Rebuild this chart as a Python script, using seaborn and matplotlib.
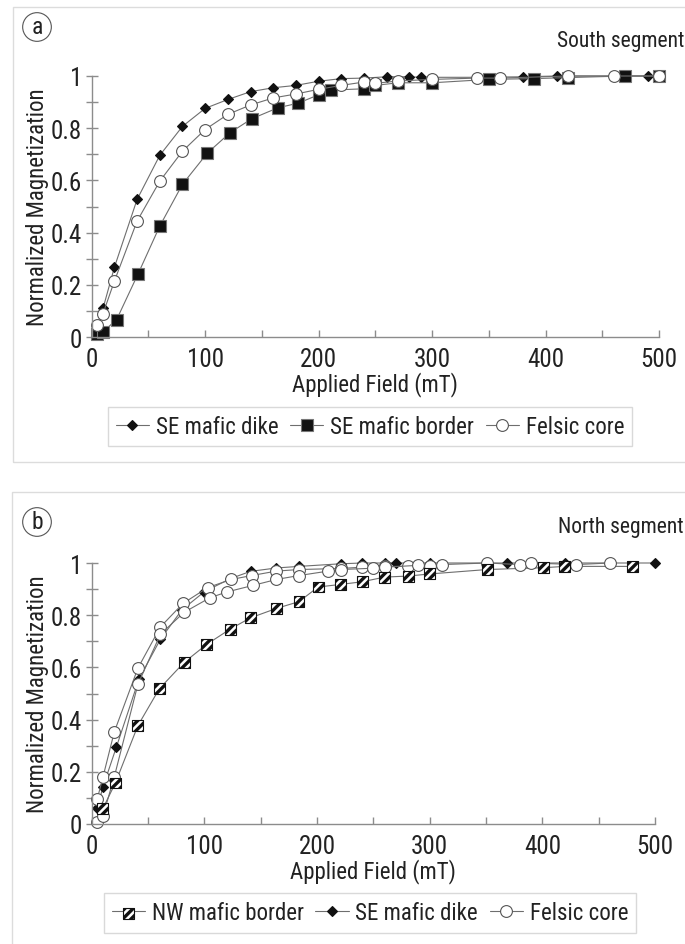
import matplotlib
matplotlib.use("Agg")
import matplotlib.pyplot as plt
import matplotlib.font_manager as fm
from matplotlib.patches import Rectangle
from matplotlib.lines import Line2D
from matplotlib.legend_handler import HandlerTuple
from matplotlib.ticker import MultipleLocator, FixedLocator
import seaborn as sns
import pandas as pd

# ---------------- data ----------------
# Panel (a) South segment
a_dike_x = [10, 20, 40, 60, 80, 100, 120, 140, 160, 180, 200, 220, 240, 260, 280, 290, 340, 380, 410, 490]
a_dike_y = [0.11, 0.267, 0.527, 0.696, 0.807, 0.876, 0.91, 0.94, 0.955, 0.964, 0.98, 0.99, 0.992, 0.997, 0.997, 0.995, 0.995, 0.997, 1.0, 1.0]

a_border_x = [5, 10, 22, 41, 60, 80, 102, 122, 141, 164, 182, 200, 211, 240, 250, 270, 300, 350, 390, 420, 470, 500]
a_border_y = [0.01, 0.02, 0.067, 0.243, 0.425, 0.585, 0.705, 0.783, 0.836, 0.878, 0.896, 0.928, 0.946, 0.951, 0.964, 0.974, 0.974, 0.987, 0.99, 0.994, 1.0, 1.0]

a_felsic_x = [5, 10, 20, 40, 60, 80, 100, 120, 140, 160, 180, 200, 220, 240, 250, 270, 300, 340, 360, 420, 460, 500]
a_felsic_y = [0.047, 0.09, 0.214, 0.444, 0.597, 0.712, 0.795, 0.853, 0.889, 0.916, 0.931, 0.949, 0.964, 0.977, 0.972, 0.981, 0.987, 0.992, 0.992, 1.0, 1.0, 1.0]

# Panel (b) North segment
b_border_x = [10, 21, 41, 60, 82, 102, 123, 141, 164, 184, 201, 221, 240, 260, 281, 300, 351, 401, 420, 480]
b_border_y = [0.06, 0.157, 0.377, 0.518, 0.619, 0.688, 0.747, 0.79, 0.826, 0.852, 0.908, 0.918, 0.928, 0.946, 0.95, 0.958, 0.975, 0.982, 0.987, 0.987]

b_dike_x = [5, 10, 22, 42, 61, 80, 100, 123, 141, 164, 184, 221, 240, 260, 270, 300, 369, 420, 500]
b_dike_y = [0.063, 0.142, 0.296, 0.556, 0.708, 0.82, 0.89, 0.94, 0.968, 0.981, 0.987, 0.997, 1.0, 1.0, 1.0, 1.0, 1.0, 1.0, 1.0]

b_felsic1_x = [5, 10, 20, 41, 61, 81, 103, 124, 142, 164, 184, 221, 240, 260, 281, 300, 311, 351, 380, 390, 430, 460]
b_felsic1_y = [0.097, 0.18, 0.352, 0.597, 0.755, 0.845, 0.906, 0.937, 0.952, 0.969, 0.975, 0.979, 0.984, 0.987, 0.987, 0.987, 0.994, 1.0, 0.994, 1.0, 0.994, 1.0]

b_felsic2_x = [5, 10, 20, 41, 61, 82, 105, 120, 143, 164, 184, 210, 221, 250, 260, 290]
b_felsic2_y = [0.009, 0.031, 0.18, 0.535, 0.727, 0.811, 0.867, 0.889, 0.914, 0.937, 0.952, 0.969, 0.975, 0.98, 0.984, 0.991]

y_ticks = [0, 0.2, 0.4, 0.6, 0.8, 1.0]
y_tick_labels = ["0", "0.2", "0.4", "0.6", "0.8", "1"]
x_ticks = [0, 100, 200, 300, 400, 500]
x_tick_labels = ["0", "100", "200", "300", "400", "500"]

legend_a = ["SE mafic dike", "SE mafic border", "Felsic core"]
legend_b = ["NW mafic border", "SE mafic dike", "Felsic core"]

# ---------------- style ----------------
sns.set_style("white")


def _is_cond(f):
    s = f.stretch
    if isinstance(s, str):
        return "condensed" in s or "narrow" in s
    try:
        return int(s) <= 400
    except Exception:
        return False


fam = "Liberation Sans"
stretch = "normal"
condensed = False
names = {f.name for f in fm.fontManager.ttflist}
for cand in ["Liberation Sans Narrow", "Roboto Condensed", "Open Sans Condensed"]:
    if cand in names:
        fam = cand
        condensed = True
        break
if not condensed:
    for cand in ["DejaVu Sans", "Noto Sans", "Open Sans", "Roboto"]:
        if any(f.name == cand and _is_cond(f) for f in fm.fontManager.ttflist):
            fam = cand
            stretch = "condensed"
            condensed = True
            break

plt.rcParams["font.family"] = [fam, "DejaVu Sans"]
plt.rcParams["font.stretch"] = stretch
plt.rcParams["hatch.linewidth"] = 2.4

FS_TICK = 18 if condensed else 15
FS_LAB = 16.5 if condensed else 14
FS_LEG = 16.5 if condensed else 14
FS_SEG = 15.5 if condensed else 14

W, H = 685, 945
fig = plt.figure(figsize=(W / 100, H / 100), dpi=100)
fig.patch.set_facecolor("white")

LINE_C = "#6e6e6e"
AX_C = "#8c8c8c"
TXT_C = "#222222"
LW = 0.8


def fx(px):
    return px / W


def fy(py):
    return 1 - py / H


# panel frames
fig.add_artist(Rectangle((fx(13), fy(463)), fx(700) - fx(13), fy(8) - fy(463),
                         transform=fig.transFigure, fill=False, ec="#dcdcdc", lw=1.0))
fig.add_artist(Rectangle((fx(12), fy(960)), fx(700) - fx(12), fy(493) - fy(960),
                         transform=fig.transFigure, fill=False, ec="#dcdcdc", lw=1.0))


def style_axes(ax):
    ax.set_xlim(0, 500)
    ax.set_ylim(0, 1)
    for s in ["top", "right"]:
        ax.spines[s].set_visible(False)
    for s in ["left", "bottom"]:
        ax.spines[s].set_color(AX_C)
        ax.spines[s].set_linewidth(1.0)
    ax.xaxis.set_major_locator(FixedLocator(x_ticks))
    ax.set_xticklabels(x_tick_labels)
    ax.xaxis.set_minor_locator(MultipleLocator(50))
    ax.yaxis.set_major_locator(FixedLocator(y_ticks))
    ax.set_yticklabels(y_tick_labels)
    ax.yaxis.set_minor_locator(MultipleLocator(0.1))
    ax.tick_params(axis="y", which="both", direction="inout", length=8, width=1.0,
                   color=AX_C, labelsize=FS_TICK, pad=3, left=True)
    ax.tick_params(axis="x", which="both", direction="in", length=5, width=1.0,
                   color=AX_C, labelsize=FS_TICK, pad=7, bottom=True)
    ax.set_xlabel("Applied Field (mT)", fontsize=FS_LAB, labelpad=0, color=TXT_C)
    ax.set_ylabel("Normalized Magnetization", fontsize=FS_LAB, labelpad=1, color=TXT_C)
    for lab in ax.get_xticklabels() + ax.get_yticklabels():
        lab.set_color(TXT_C)
    ax.patch.set_alpha(0)


def series(ax, xs, ys, marker, ms, fc, ec):
    df = pd.DataFrame({"x": xs, "y": ys})
    sns.lineplot(data=df, x="x", y="y", ax=ax, sort=False, color=LINE_C, lw=LW,
                 marker=marker, markersize=ms, markerfacecolor=fc,
                 markeredgecolor=ec, markeredgewidth=0.8, clip_on=False)
    return Line2D([], [], color=LINE_C, lw=LW, marker=marker, markersize=ms,
                  markerfacecolor=fc, markeredgecolor=ec, markeredgewidth=0.8)


LEG_KW = dict(loc="center", ncol=3, fontsize=FS_LEG, frameon=True, fancybox=False,
              edgecolor="#d0d0d0", handlelength=1.45, handletextpad=0.3,
              columnspacing=0.5, borderpad=0.35, borderaxespad=0, numpoints=1)

# ---------------- panel a ----------------
axa = fig.add_axes([fx(91.7), fy(338), (659 - 91.7) / W, (338 - 77) / H])
h1 = series(axa, a_dike_x, a_dike_y, "D", 5.2, "#111111", "#111111")
h2 = series(axa, a_border_x, a_border_y, "s", 8, "#111111", "#777777")
h3 = series(axa, a_felsic_x, a_felsic_y, "o", 8.5, "white", "#555555")
style_axes(axa)
leg_a = fig.legend([h1, h2, h3], legend_a, bbox_to_anchor=(fx(370), fy(427.5)), **LEG_KW)
for t in leg_a.get_texts():
    t.set_color(TXT_C)

fig.text(fx(37), fy(28), "a", ha="center", va="center", fontsize=17, color=TXT_C,
         bbox=dict(boxstyle="circle,pad=0.12", fc="white", ec="#555555", lw=0.8))
fig.text(fx(684), fy(42), "South segment", ha="right", va="center", fontsize=FS_SEG,
         color=TXT_C)

# ---------------- panel b ----------------
axb = fig.add_axes([fx(91.7), fy(825), (655 - 91.7) / W, (825 - 564) / H])
dfb = pd.DataFrame({"x": b_border_x, "y": b_border_y})
sns.lineplot(data=dfb, x="x", y="y", ax=axb, sort=False, color=LINE_C, lw=LW, clip_on=False)
sns.scatterplot(data=dfb, x="x", y="y", ax=axb, marker="s", s=62, color="white",
                edgecolor="#111111", linewidth=0.8, clip_on=False, zorder=3)
sq = axb.collections[-1]
sq.set_hatch("////")
hb1_line = Line2D([], [], color=LINE_C, lw=LW)

hb2 = series(axb, b_dike_x, b_dike_y, "D", 5.2, "#111111", "#111111")
hb3 = series(axb, b_felsic1_x, b_felsic1_y, "o", 8.5, "white", "#555555")
series(axb, b_felsic2_x, b_felsic2_y, "o", 8.5, "white", "#555555")
style_axes(axb)
leg_b = fig.legend([(hb1_line, sq), hb2, hb3], legend_b, bbox_to_anchor=(fx(370), fy(914)),
                   scatterpoints=1, handler_map={tuple: HandlerTuple(ndivide=1)}, **LEG_KW)
for t in leg_b.get_texts():
    t.set_color(TXT_C)

fig.text(fx(37), fy(523), "b", ha="center", va="center", fontsize=17, color=TXT_C,
         bbox=dict(boxstyle="circle,pad=0.12", fc="white", ec="#555555", lw=0.8))
fig.text(fx(684), fy(527), "North segment", ha="right", va="center", fontsize=FS_SEG,
         color=TXT_C)

fig.savefig("out.png", dpi=100, facecolor="white")
